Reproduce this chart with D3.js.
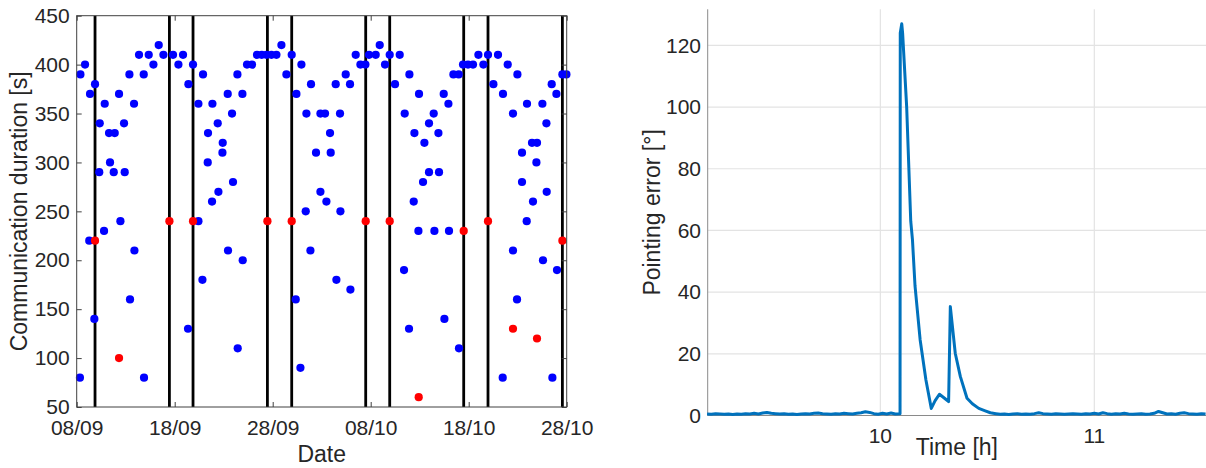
<!DOCTYPE html>
<html>
<head>
<meta charset="utf-8">
<script src="https://cdn.jsdelivr.net/npm/d3@7"></script>
<style>
  body{margin:0;background:#fff;}
  svg{display:block;font-family:"Liberation Sans",Arial,Helvetica,sans-serif;}
</style>
</head>
<body>
<div id="chart"></div>
<script>
// ---- left panel data: days after 08/09, duration [s]
const startDate = Date.UTC(2020, 8, 8);
const dateTicks = ["2020-09-08","2020-09-18","2020-09-28","2020-10-08","2020-10-18","2020-10-28"];
const durationTicks = [50,100,150,200,250,300,350,400,450];
const eventDays = [1.87,9.46,11.87,19.46,21.94,29.49,31.94,39.49,41.97,49.56];
const bluePoints = [
  [0.38,390],[0.33,80],[0.85,400],[1.36,370],[1.28,220],[1.87,380],[1.8,140],
  [2.35,340],[2.3,290],[2.79,230],[2.86,360],[3.3,330],[3.4,300],[3.88,330],[3.78,290],
  [4.32,370],[4.46,240],[4.83,340],[4.9,290],[5.38,390],[5.44,160],[5.85,360],[5.89,210],
  [6.36,410],[6.84,390],[6.87,80],[7.35,410],[7.83,400],[8.37,420],[8.85,410],[9.83,410],
  [10.38,400],[10.85,410],[11.4,380],[11.36,130],[11.87,400],[12.42,360],[12.42,240],
  [12.83,180],[12.89,390],[13.4,330],[13.37,300],[13.85,360],[13.81,260],[14.39,340],
  [14.46,270],[14.9,320],[14.87,310],[15.41,370],[15.44,210],[15.85,350],[15.95,280],
  [16.4,390],[16.43,110],[16.91,370],[16.94,200],[17.38,400],[17.89,400],[18.4,410],
  [18.88,410],[19.36,410],[19.87,410],[20.38,410],[20.89,420],[21.4,390],[21.94,410],
  [22.42,370],[22.35,160],[22.93,400],[22.83,90],[23.44,350],[23.37,250],[23.85,210],
  [23.91,380],[24.42,310],[24.87,350],[24.87,270],[25.34,350],[25.48,260],[25.85,330],
  [25.92,310],[26.43,380],[26.5,180],[26.87,350],[26.91,250],[27.45,390],[27.89,380],
  [27.93,170],[28.47,410],[28.95,400],[29.46,400],[29.83,410],[30.51,410],[30.92,420],
  [31.46,400],[31.94,410],[32.48,380],[32.96,410],[33.4,190],[33.47,350],[33.95,390],
  [33.91,130],[34.46,330],[34.39,260],[34.87,230],[34.93,370],[35.34,280],[35.48,320],
  [35.95,340],[35.95,290],[36.43,350],[36.5,230],[36.91,330],[36.97,290],[37.45,370],
  [37.52,140],[37.93,360],[37.99,230],[38.44,390],[38.98,390],[39.01,110],[39.42,400],
  [39.93,400],[40.44,400],[40.99,410],[41.5,400],[41.97,410],[42.52,380],[42.99,410],
  [43.5,370],[43.47,80],[43.98,400],[44.52,350],[44.52,210],[44.97,390],[44.93,160],
  [45.44,310],[45.44,280],[45.95,360],[45.92,240],[46.46,320],[46.56,260],[46.97,320],
  [46.91,300],[47.52,360],[47.58,200],[47.96,270],[47.93,340],[48.47,380],[48.54,80],
  [48.95,370],[49.01,190],[49.56,390],[49.97,390]
];
const redPoints = [
  [1.87,220],[4.32,100],[9.46,240],[11.87,240],[19.46,240],[21.94,240],[29.49,240],
  [31.94,240],[34.9,60],[39.49,230],[41.97,240],[44.52,130],[46.97,120],[49.56,220]
];

// ---- right panel data: time [h], pointing error [deg]
const timeTicks = [10,11];
const errorTicks = [0,20,40,60,80,100,120];
const pointingError = [
  [9.19,0.5],[9.21,0.4],[9.23,0.6],[9.25,0.5],[9.27,0.4],[9.29,0.5],[9.31,0.3],[9.33,0.5],
  [9.35,0.4],[9.37,0.6],[9.39,0.5],[9.41,0.7],[9.43,0.5],[9.45,0.8],[9.47,1.0],[9.49,0.7],
  [9.51,0.6],[9.53,0.5],[9.55,0.6],[9.57,0.4],[9.59,0.5],[9.61,0.3],[9.63,0.5],[9.65,0.6],
  [9.67,0.5],[9.69,0.7],[9.71,0.8],[9.73,0.6],[9.75,0.5],[9.77,0.4],[9.79,0.6],[9.81,0.5],
  [9.83,0.7],[9.85,0.6],[9.87,0.5],[9.89,0.7],[9.91,0.9],[9.93,1.2],[9.95,1.0],[9.97,0.6],
  [9.99,0.4],[10.01,0.7],[10.03,0.5],[10.05,0.8],[10.07,0.5],[10.092,0.6],
  [10.093,124],[10.100,127],[10.104,124],[10.123,100],[10.142,63],[10.150,57],[10.162,42],
  [10.186,24.5],[10.213,11.5],[10.238,2.3],[10.256,4.8],[10.276,6.9],[10.30,5.6],[10.319,4.5],
  [10.327,35.3],[10.35,20.2],[10.374,12.6],[10.405,5.6],[10.43,3.8],[10.46,2.3],[10.49,1.5],
  [10.514,0.9],[10.54,0.6],[10.56,0.4],[10.58,0.5],[10.60,0.3],[10.62,0.5],[10.64,0.6],
  [10.66,0.4],[10.68,0.5],[10.70,0.4],[10.72,0.6],[10.74,0.9],[10.76,0.6],[10.78,0.5],
  [10.80,0.4],[10.82,0.6],[10.84,0.5],[10.86,0.4],[10.88,0.5],[10.90,0.6],[10.92,0.5],
  [10.94,0.4],[10.96,0.6],[10.98,0.5],[11.00,0.7],[11.02,0.5],[11.04,0.9],[11.06,0.6],
  [11.08,0.4],[11.10,0.6],[11.12,0.5],[11.14,0.7],[11.16,0.5],[11.18,0.4],[11.20,0.5],
  [11.22,0.6],[11.24,0.4],[11.26,0.5],[11.28,0.7],[11.30,1.3],[11.32,0.9],[11.34,0.5],
  [11.36,0.6],[11.38,0.4],[11.40,0.7],[11.42,0.9],[11.44,0.6],[11.46,0.5],[11.48,0.4],
  [11.50,0.6],[11.52,0.5]
];

const W = 1206, H = 468, txt = "#262626";
const svg = d3.select("#chart").append("svg").attr("width", W).attr("height", H);
const toDate = d => new Date(startDate + d * 864e5);

// ================= left panel =================
const L = {left:76.7, right:566.7, top:15.7, bottom:407};
const x1 = d3.scaleUtc().domain([new Date(dateTicks[0]), new Date(dateTicks[dateTicks.length-1])]).range([L.left, L.right]);
const y1 = d3.scaleLinear().domain([50,450]).range([L.bottom, L.top]);
const g1 = svg.append("g");

g1.selectAll(".ev").data(eventDays).join("line")
  .attr("x1", d=>x1(toDate(d))).attr("x2", d=>x1(toDate(d)))
  .attr("y1", L.top).attr("y2", L.bottom)
  .attr("stroke", "#000").attr("stroke-width", 2.8);

g1.selectAll(".blue").data(bluePoints).join("circle")
  .attr("cx", d=>x1(toDate(d[0]))).attr("cy", d=>y1(d[1])).attr("r", 4.1)
  .attr("fill", "#0000ff");
g1.selectAll(".red").data(redPoints).join("circle")
  .attr("cx", d=>x1(toDate(d[0]))).attr("cy", d=>y1(d[1])).attr("r", 4.1)
  .attr("fill", "#ff0000");

// box + inward ticks
const boxCol = "#404040";
const tl = 5;
const fmt = d3.utcFormat("%d/%m");
const xt = dateTicks.map(s=>new Date(s));
g1.append("rect").attr("x", L.left).attr("y", L.top).attr("width", L.right-L.left).attr("height", L.bottom-L.top)
  .attr("fill", "none").attr("stroke", boxCol).attr("stroke-width", 1);
g1.append("g").attr("transform", `translate(0,${L.bottom})`)
  .call(d3.axisBottom(x1).tickValues(xt).tickFormat(fmt).tickSize(-tl).tickPadding(10))
  .call(s=>s.select(".domain").remove())
  .call(s=>s.selectAll("line").attr("stroke", boxCol))
  .call(s=>s.selectAll("text").attr("font-size", 21).attr("fill", txt).attr("font-family", null).attr("dy", "0.85em"));
g1.append("g").attr("transform", `translate(0,${L.top})`)
  .call(d3.axisTop(x1).tickValues(xt).tickFormat("").tickSize(-tl))
  .call(s=>s.select(".domain").remove())
  .call(s=>s.selectAll("line").attr("stroke", boxCol));
g1.append("g").attr("transform", `translate(${L.left},0)`)
  .call(d3.axisLeft(y1).tickValues(durationTicks).tickSize(-tl).tickPadding(7))
  .call(s=>s.select(".domain").remove())
  .call(s=>s.selectAll("line").attr("stroke", boxCol))
  .call(s=>s.selectAll("text").attr("font-size", 21).attr("fill", txt).attr("font-family", null));
g1.append("g").attr("transform", `translate(${L.right},0)`)
  .call(d3.axisRight(y1).tickValues(durationTicks).tickFormat("").tickSize(-tl))
  .call(s=>s.select(".domain").remove())
  .call(s=>s.selectAll("line").attr("stroke", boxCol));

g1.append("text").attr("x", (L.left+L.right)/2).attr("y", 462)
  .attr("text-anchor", "middle").attr("font-size", 23).attr("fill", txt).text("Date");
g1.append("text").attr("transform", `translate(26.7,${(L.top+L.bottom)/2}) rotate(-90)`)
  .attr("text-anchor", "middle").attr("font-size", 23).attr("fill", txt).text("Communication duration [s]");

// ================= right panel =================
const R = {left:707.7, right:1206, top:9.3, bottom:415.5};
const x2 = d3.scaleLinear().domain([9.193, 11.522]).range([R.left, R.right]);
const y2 = d3.scaleLinear().domain([0, 131.7]).range([R.bottom, R.top]);
const g2 = svg.append("g");

g2.selectAll(".gx").data(timeTicks).join("line")
  .attr("x1", d=>x2(d)).attr("x2", d=>x2(d)).attr("y1", R.top).attr("y2", R.bottom)
  .attr("stroke", "#e3e3e3").attr("stroke-width", 1.2);
g2.selectAll(".gy").data(errorTicks.filter(d=>d>0)).join("line")
  .attr("x1", R.left).attr("x2", R.right).attr("y1", d=>y2(d)).attr("y2", d=>y2(d))
  .attr("stroke", "#e3e3e3").attr("stroke-width", 1.2);

g2.append("line").attr("x1", R.left).attr("x2", R.left).attr("y1", R.top).attr("y2", R.bottom)
  .attr("stroke", "#8a8a8a");
g2.append("line").attr("x1", R.left).attr("x2", R.right).attr("y1", R.bottom).attr("y2", R.bottom)
  .attr("stroke", "#8a8a8a");

g2.append("path").datum(pointingError)
  .attr("d", d3.line().x(d=>x2(d[0])).y(d=>y2(d[1])))
  .attr("fill", "none").attr("stroke", "#0072bd").attr("stroke-width", 3)
  .attr("stroke-linejoin", "round");

g2.selectAll(".ty").data(errorTicks).join("text")
  .attr("x", 701).attr("y", d=>y2(d)).attr("dy", "0.35em").attr("text-anchor", "end")
  .attr("font-size", 21).attr("fill", txt).text(d=>d);
g2.selectAll(".tx").data(timeTicks).join("text")
  .attr("x", d=>x2(d)).attr("y", 443.3).attr("text-anchor", "middle")
  .attr("font-size", 21).attr("fill", txt).text(d=>d);

g2.append("text").attr("x", (R.left+R.right)/2).attr("y", 455)
  .attr("text-anchor", "middle").attr("font-size", 23).attr("fill", txt).text("Time [h]");
g2.append("text").attr("transform", `translate(660,${(R.top+R.bottom)/2}) rotate(-90)`)
  .attr("text-anchor", "middle").attr("font-size", 23).attr("fill", txt).text("Pointing error [°]");
</script>
</body>
</html>
